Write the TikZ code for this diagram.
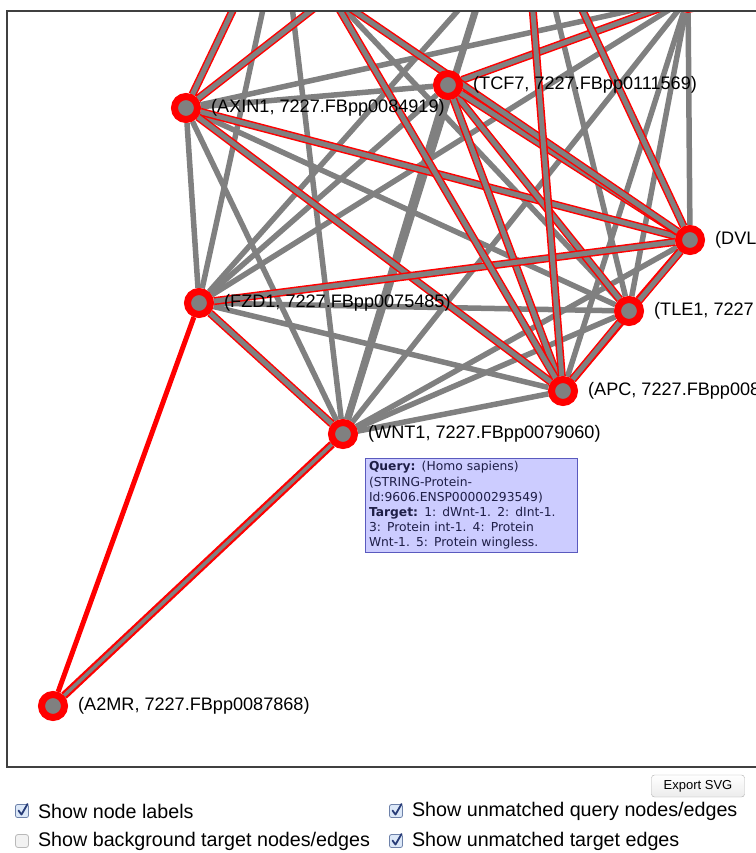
\documentclass[tikz,border=0pt]{standalone}
\usepackage{fontspec}
\setmainfont{Liberation Sans}
\newfontfamily\tipfont{DejaVu Sans}
\usetikzlibrary{positioning,backgrounds}
\definecolor{edgegray}{RGB}{128,128,128}
\definecolor{tipfill}{RGB}{204,204,255}
\definecolor{tipline}{RGB}{90,90,190}
\definecolor{tiptext}{RGB}{30,30,70}
\definecolor{tickblue}{RGB}{40,60,120}
\definecolor{boxedge}{RGB}{110,130,170}
\definecolor{boxfill}{RGB}{220,232,248}

\tikzset{
  prot/.style={circle, fill=edgegray, draw=red, line width=7pt,
    minimum size=23pt, inner sep=0pt},
  protlabel/.style={inner sep=0pt, font=\fontsize{18.1}{20}\selectfont},
  graylink/.style={draw=edgegray, line width=5.5pt},
  hitlink/.style={draw=edgegray, line width=5pt,
    preaction={draw=red, line width=8pt}},
  querylink/.style={draw=red, line width=5pt},
  tipbox/.style={draw=tipline, fill=tipfill, line width=1pt, text=tiptext,
    align=left, text width=205pt, inner xsep=3.5pt, inner ysep=3pt,
    font=\tipfont\fontsize{12.3}{15.2}\selectfont},
  chk/.style={draw=boxedge, fill=boxfill, rounded corners=2pt,
    minimum size=13pt, inner sep=0pt, line width=0.8pt},
  unchk/.style={draw=gray!55, fill=gray!10, rounded corners=2.5pt,
    minimum size=13pt, inner sep=0pt, line width=0.8pt},
  tick/.style={draw=tickblue, line width=1.8pt, line cap=round, line join=round},
  optlabel/.style={inner sep=0pt, font=\fontsize{19.7}{23}\selectfont},
  btn/.style={draw=gray!65, rounded corners=3pt, top color=white,
    bottom color=gray!15, minimum width=93pt, minimum height=22pt,
    inner sep=0pt, font=\fontsize{13}{15}\selectfont}
}

\begin{document}
\begin{tikzpicture}[x=1pt, y=-1pt]
  \useasboundingbox (0,0) rectangle (755,853);

  \begin{scope}
    \clip (7,11) rectangle (770,767);
    % proteins
    \node[prot] (axin) at (186,108) {};
    \node[prot] (tcf) at (448,85) {};
    \node[prot] (dvl) at (690,240) {};
    \node[prot] (fzd) at (199,303) {};
    \node[prot] (tle) at (629,311) {};
    \node[prot] (apc) at (563,391) {};
    \node[prot] (wnt) at (343,434) {};
    \node[prot] (amr) at (53,706) {};
    \node[prot] (corner) at (688,-2) {};
    % proteins above the visible part
    \node[prot] (upa) at (252,-30) {};
    \node[prot] (upb) at (282,-78) {};
    \node[prot] (upc) at (331,-5) {};
    \node[prot] (upd) at (485,-20) {};
    \node[prot] (upe) at (530,-25) {};
    \node[prot] (upf) at (566,-25) {};
    \node[prot] (upg) at (548,-20) {};

    \node[protlabel, right=10pt of axin] (axinlab) {(AXIN1, 7227.FBpp0084919)};
    \node[protlabel, right=10pt of tcf] (tcflab) {(TCF7, 7227.FBpp0111569)};
    \node[protlabel, right=10pt of dvl] (dvllab) {(DVL};
    \node[protlabel, right=10pt of fzd] (fzdlab) {(FZD1, 7227.FBpp0075485)};
    \node[protlabel, right=10pt of tle] (tlelab) {(TLE1, 7227};
    \node[protlabel, right=10pt of apc] (apclab) {(APC, 7227.FBpp008};
    \node[protlabel, right=10pt of wnt] (wntlab) {(WNT1, 7227.FBpp0079060)};
    \node[protlabel, right=10pt of amr] (amrlab) {(A2MR, 7227.FBpp0087868)};

    \node[tipbox, anchor=north west] (tip) at (365,458)
      {\textbf{Query:} (Homo sapiens)\\(STRING-Protein-\\Id:9606.ENSP00000293549)\\
       \textbf{Target:} 1: dWnt-1. 2: dInt-1.\\3: Protein int-1. 4: Protein\\
       Wnt-1. 5: Protein wingless.};
  \end{scope}

  \begin{pgfonlayer}{background}
    \begin{scope}
      \clip (7,11) rectangle (770,767);
      % unmatched target edges
      \draw[graylink] (axin) -- (tcf);
      \draw[graylink] (axin) -- (fzd);
      \draw[graylink] (axin) -- (tle);
      \draw[graylink] (axin) -- (wnt);
      \draw[graylink] (axin) -- (corner);
      \draw[graylink] (tcf) -- (fzd);
      \draw[graylink, line width=7pt] (tcf) -- (wnt);
      \draw[graylink] (dvl) -- (wnt);
      \draw[graylink] (dvl) -- (corner);
      \draw[graylink] (fzd) -- (tle);
      \draw[graylink] (fzd) -- (apc);
      \draw[graylink] (fzd) -- (corner);
      \draw[graylink] (tle) -- (wnt);
      \draw[graylink] (tle) -- (corner);
      \draw[graylink] (apc) -- (wnt);
      \draw[graylink] (apc) -- (corner);
      \draw[graylink] (wnt) -- (corner);
      \draw[graylink] (upb) -- (fzd);
      \draw[graylink] (upb) -- (wnt);
      \draw[graylink] (upc) -- (tle);
      \draw[graylink, line width=7pt] (upd) -- (wnt);
      \draw[graylink] (upd) -- (fzd);
      \draw[graylink] (upg) -- (tle);
      % matched edges
      \draw[hitlink] (axin) -- (dvl);
      \draw[hitlink] (axin) -- (apc);
      \draw[hitlink] (tcf) -- (corner);
      \draw[hitlink] (tcf) -- (tle);
      \draw[hitlink] (tcf) -- (dvl);
      \draw[hitlink] (tcf) -- (apc);
      \draw[hitlink] (dvl) -- (fzd);
      \draw[hitlink] (dvl) -- (tle);
      \draw[hitlink] (dvl) -- (apc);
      \draw[hitlink] (fzd) -- (wnt);
      \draw[hitlink] (tle) -- (apc);
      \draw[hitlink] (upa) -- (axin);
      \draw[hitlink] (upc) -- (axin);
      \draw[hitlink] (upc) -- (apc);
      \draw[hitlink] (upc) -- (dvl);
      \draw[hitlink] (upe) -- (apc);
      \draw[hitlink] (upf) -- (dvl);
      \draw[hitlink, line width=3.5pt, preaction={draw=red, line width=6.5pt}] (wnt) -- (amr);
      % unmatched query edge
      \draw[querylink] (fzd) -- (amr);
    \end{scope}
  \end{pgfonlayer}

  \draw[black!75, line width=1.3pt] (7,11) rectangle (770,767);

  % controls under the view
  \node[btn] (export) at (698,786) {Export SVG};

  \node[chk] (cb1) at (22,811) {};
  \node[chk] (cb2) at (396,811) {};
  \node[unchk] (cb3) at (22,841) {};
  \node[chk] (cb4) at (396,841) {};
  \foreach \b in {cb1,cb2,cb4}
    \draw[tick] ([xshift=-3.5pt,yshift=0.5pt]\b.center) -- ([xshift=-0.5pt,yshift=-3.5pt]\b.center)
      -- ([xshift=5.5pt,yshift=7pt]\b.center);

  \node[optlabel, right=9pt of cb1] (opt1) {Show node labels};
  \node[optlabel, right=9pt of cb2] (opt2) {Show unmatched query nodes/edges};
  \node[optlabel, right=9pt of cb3] (opt3) {Show background target nodes/edges};
  \node[optlabel, right=9pt of cb4] (opt4) {Show unmatched target edges};
\end{tikzpicture}
\end{document}
